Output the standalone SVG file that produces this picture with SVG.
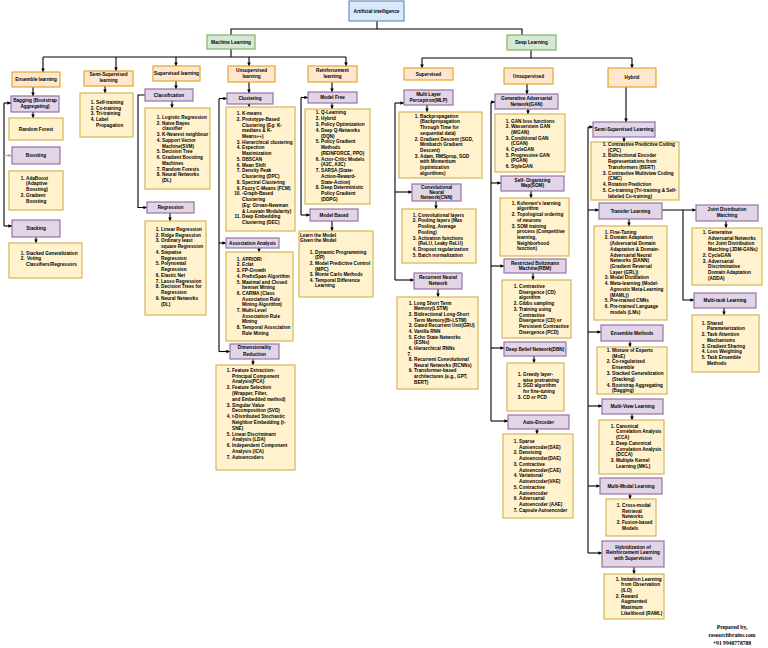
<svg xmlns="http://www.w3.org/2000/svg" width="768" height="648" viewBox="0 0 768 648">
<defs>
<style>
.bx{stroke-width:1.2}
.b{fill:#dae8fc;stroke:#6c8ebf}
.g{fill:#d5e8d4;stroke:#82b366}
.o{fill:#ffe6cc;stroke:#e0a82e}
.p{fill:#e1d5e7;stroke:#9673a6}
.y{fill:#fff2cc;stroke:#d6b656}
text{font-family:"Liberation Sans",Arial,sans-serif;font-weight:bold;font-size:4.7px;fill:#000}
.t{text-anchor:middle}
.n{text-anchor:end}
.pr{font-family:"Liberation Serif","Times New Roman",serif;font-size:5.6px;text-anchor:middle}
</style>
<marker id="a" viewBox="0 0 6 6" refX="6" refY="3" markerWidth="3.6" markerHeight="3.6" markerUnits="userSpaceOnUse" orient="auto"><path d="M0,0L6,3L0,6z" fill="#000"/></marker>
<marker id="ag" viewBox="0 0 6 6" refX="6" refY="3" markerWidth="3.6" markerHeight="3.6" markerUnits="userSpaceOnUse" orient="auto"><path d="M0,0L6,3L0,6z" fill="#aaa"/></marker>
</defs>
<rect width="768" height="648" fill="#fff"/>

<g id="connectors" fill="none" stroke="#000" stroke-width="1.1">
<path d="M377,21V29H231V35"/><path d="M377,29H522V35"/>
<path d="M231,49V57"/><path d="M43,57H346"/>
<g marker-end="url(#a)">
<path d="M43,57V72"/><path d="M116,57V71"/><path d="M176,57V66"/><path d="M249,57V66"/><path d="M346,57V66"/>
<path d="M33,87V96"/><path d="M33,112V118"/>
<path d="M4,103H11"/><path d="M4,226H12"/>
<path d="M36,237V243"/><path d="M105,86V93"/>
<path d="M176,81V89"/><path d="M172,101V108"/><path d="M170,213V221"/>
<path d="M145,95H138V207.5H147"/>
<path d="M249,82V93"/><path d="M249,103.5V107"/><path d="M259,248V252"/><path d="M253,359V365"/>
<path d="M219,98.5H227"/><path d="M219,243H226"/><path d="M219,351.5H230"/>
<path d="M332,82V92"/><path d="M332,103V109"/><path d="M332,221V231"/>
<path d="M301,97.5H308"/><path d="M301,215H310"/>
<path d="M422,58V68"/><path d="M632,58V68"/>
<path d="M527,84V94"/><path d="M427,105V112"/><path d="M436,201V209"/><path d="M438,289V297"/>
<path d="M395,103H404"/><path d="M395,192H412"/><path d="M395,280H414"/>
<path d="M528,109V114"/><path d="M531,191V198"/><path d="M533,273V280"/><path d="M534,356V363"/><path d="M537,429V434"/>
<path d="M491,102H495"/><path d="M491,183H501"/><path d="M491,266H504"/><path d="M491,348H504"/><path d="M491,421H508"/>
<path d="M626,87V122"/><path d="M624,137V142"/><path d="M662,210H696"/><path d="M683,210V300H694"/>
<path d="M629,219V226"/><path d="M726,221V228"/><path d="M724,308V315"/><path d="M630,341V347"/><path d="M632,414V420"/><path d="M630,494V499"/><path d="M634,567V574"/>
<path d="M588,127H593"/><path d="M588,210H599"/><path d="M588,332H601"/><path d="M588,406H602"/><path d="M588,486H600"/><path d="M588,553H602"/>
</g>
<path d="M4,103V226"/><path d="M4,155.5H12" stroke="#aaa" marker-end="url(#ag)"/>
<path d="M219,98.5V351.5"/><path d="M301,97.5V215"/>
<path d="M531,50V58"/><path d="M422,58H632"/>
<path d="M395,103V280"/><path d="M491,102V421"/><path d="M588,127V553"/>
</g>

<g id="root"><rect class="bx b" x="349" y="1" width="55" height="20"/><text class="t" x="376.5" y="12.7">Artificial intelligence</text></g>
<g id="ml"><rect class="bx g" x="207" y="35" width="48" height="14"/><text class="t" x="231" y="43.7">Machine Learning</text></g>
<g id="dl"><rect class="bx g" x="507" y="35" width="49" height="15"/><text class="t" x="531.5" y="44.2">Deep Learning</text></g>

<g id="ensemble"><rect class="bx o" x="12" y="72" width="48" height="15"/><text class="t" x="36" y="81.2">Ensemble learning</text></g>
<g id="semisup"><rect class="bx o" x="84" y="71" width="49" height="15"/><text class="t" x="108.5" y="75.7">Semi-Supervised</text><text class="t" x="108.5" y="81.5">learning</text></g>
<g id="supervised"><rect class="bx o" x="153" y="66" width="47" height="15"/><text class="t" x="176.5" y="75.2">Supervised learning</text></g>
<g id="unsupervised"><rect class="bx o" x="228" y="66" width="47" height="16"/><text class="t" x="251.5" y="71.7">Unsupervised</text><text class="t" x="251.5" y="77.5">learning</text></g>
<g id="reinforcement"><rect class="bx o" x="308" y="66" width="49" height="16"/><text class="t" x="332.5" y="71.7">Reinforcement</text><text class="t" x="332.5" y="77.5">learning</text></g>

<g id="bagging"><rect class="bx p" x="11" y="96" width="48" height="16"/><text class="t" x="35" y="101.7">Bagging (Bootstrap</text><text class="t" x="35" y="108.3">Aggregating)</text></g>
<g id="randomforest"><rect class="bx y" x="9" y="118" width="54" height="22"/><text class="t" x="36" y="130.7">Random Forest</text></g>
<g id="boosting"><rect class="bx p" x="12" y="147" width="48" height="17"/><text class="t" x="36" y="157.2">Boosting</text></g>
<g id="boostlist"><rect class="bx y" x="9" y="171" width="54" height="39"/><text>
<tspan class="n" x="24.7" y="179.7">1.</tspan><tspan x="26" y="179.7">AdaBoost</tspan>
<tspan x="26" y="185.4">(Adaptive</tspan>
<tspan x="26" y="191.1">Boosting)</tspan>
<tspan class="n" x="24.7" y="196.8">2.</tspan><tspan x="26" y="196.8">Gradient</tspan>
<tspan x="26" y="202.5">Boosting</tspan></text></g>
<g id="stacking"><rect class="bx p" x="12" y="220" width="48" height="17"/><text class="t" x="36" y="230.2">Stacking</text></g>
<g id="stacklist"><rect class="bx y" x="9" y="243" width="73" height="35"/><text>
<tspan class="n" x="24.7" y="254.7">1.</tspan><tspan x="26" y="254.7">Stacked Generalization</tspan>
<tspan class="n" x="24.7" y="260.4">2.</tspan><tspan x="27" y="260.4">Voting</tspan>
<tspan x="26" y="266.1">Classifiers/Regressors</tspan></text></g>

<g id="semilist"><rect class="bx y" x="80" y="93" width="53" height="44"/><text>
<tspan class="n" x="94.7" y="103.7">1.</tspan><tspan x="96" y="103.7">Self-training</tspan>
<tspan class="n" x="94.7" y="109.5">2.</tspan><tspan x="96" y="109.5">Co-training</tspan>
<tspan class="n" x="94.7" y="115.2">3.</tspan><tspan x="96" y="115.2">Tri-training</tspan>
<tspan class="n" x="94.7" y="120.9">4.</tspan><tspan x="96" y="120.9">Label</tspan>
<tspan x="96" y="126.7">Propagation</tspan></text></g>

<g id="classification"><rect class="bx p" x="145" y="89" width="48" height="12"/><text class="t" x="169" y="96.7">Classification</text></g>
<g id="classlist"><rect class="bx y" x="145" y="108" width="65" height="81"/><text>
<tspan class="n" x="160.7" y="118.7">1.</tspan><tspan x="162" y="118.7">Logistic Regression</tspan>
<tspan class="n" x="160.7" y="124.5">2.</tspan><tspan x="162" y="124.5">Naive Bayes</tspan>
<tspan x="162" y="130.2">classifier</tspan>
<tspan class="n" x="160.7" y="136">3.</tspan><tspan x="162" y="136">K-Nearest neighbour</tspan>
<tspan class="n" x="160.7" y="141.7">4.</tspan><tspan x="162" y="141.7">Support Vector</tspan>
<tspan x="162" y="147.5">Machine(SVM)</tspan>
<tspan class="n" x="160.7" y="153.2">5.</tspan><tspan x="162" y="153.2">Decision Tree</tspan>
<tspan class="n" x="160.7" y="159">6.</tspan><tspan x="162" y="159">Gradient Boosting</tspan>
<tspan x="162" y="164.7">Machines</tspan>
<tspan class="n" x="160.7" y="170.5">7.</tspan><tspan x="162" y="170.5">Random Forests</tspan>
<tspan class="n" x="160.7" y="176.2">8.</tspan><tspan x="162" y="176.2">Neural Networks</tspan>
<tspan x="162" y="182">(DL)</tspan></text></g>
<g id="regression"><rect class="bx p" x="147" y="202" width="47" height="11"/><text class="t" x="170.5" y="209.2">Regression</text></g>
<g id="reglist"><rect class="bx y" x="145" y="221" width="61" height="94"/><text>
<tspan class="n" x="159.7" y="230.7">1.</tspan><tspan x="161" y="230.7">Linear Regression</tspan>
<tspan class="n" x="159.7" y="236.5">2.</tspan><tspan x="161" y="236.5">Ridge Regression</tspan>
<tspan class="n" x="159.7" y="242.2">3.</tspan><tspan x="161" y="242.2">Ordinary least</tspan>
<tspan x="161" y="248">square Regression</tspan>
<tspan class="n" x="159.7" y="253.8">4.</tspan><tspan x="161" y="253.8">Stepwise</tspan>
<tspan x="161" y="259.5">Regression</tspan>
<tspan class="n" x="159.7" y="265.3">5.</tspan><tspan x="161" y="265.3">Polynomial</tspan>
<tspan x="161" y="271.1">Regression</tspan>
<tspan class="n" x="159.7" y="276.8">6.</tspan><tspan x="161" y="276.8">Elastic Net</tspan>
<tspan class="n" x="159.7" y="282.6">7.</tspan><tspan x="161" y="282.6">Lasso Regression</tspan>
<tspan class="n" x="159.7" y="288.4">8.</tspan><tspan x="161" y="288.4">Decision Trees for</tspan>
<tspan x="161" y="294.1">Regression</tspan>
<tspan class="n" x="159.7" y="299.9">9.</tspan><tspan x="161" y="299.9">Neural Networks</tspan>
<tspan x="161" y="305.7">(DL)</tspan></text></g>

<g id="clustering"><rect class="bx p" x="227" y="93" width="46" height="11"/><text class="t" x="250" y="100.2">Clustering</text></g>
<g id="clusterlist"><rect class="bx y" x="226" y="107" width="69" height="124"/><text>
<tspan class="n" x="240.7" y="115">1.</tspan><tspan x="242" y="115">K-means</tspan>
<tspan class="n" x="240.7" y="120.7">2.</tspan><tspan x="242" y="120.7">Prototype-Based</tspan>
<tspan x="242" y="126.5">Clustering (Eg: K-</tspan>
<tspan x="242" y="132.2">medians &amp; K-</tspan>
<tspan x="242" y="137.9">Means++)</tspan>
<tspan class="n" x="240.7" y="143.7">3.</tspan><tspan x="242" y="143.7">Hierarchical clustering</tspan>
<tspan class="n" x="240.7" y="149.4">4.</tspan><tspan x="242" y="149.4">Expection</tspan>
<tspan x="242" y="155.2">Maximization</tspan>
<tspan class="n" x="240.7" y="160.9">5.</tspan><tspan x="242" y="160.9">DBSCAN</tspan>
<tspan class="n" x="240.7" y="166.6">6.</tspan><tspan x="242" y="166.6">Mean Shift</tspan>
<tspan class="n" x="240.7" y="172.4">7.</tspan><tspan x="242" y="172.4">Density Peak</tspan>
<tspan x="242" y="178.1">Clustering (DPC)</tspan>
<tspan class="n" x="240.7" y="183.9">8.</tspan><tspan x="242" y="183.9">Spectral Clustering</tspan>
<tspan class="n" x="240.7" y="189.6">9.</tspan><tspan x="242" y="189.6">Fuzzy C-Means (FCM)</tspan>
<tspan class="n" x="240.7" y="195.3">10.</tspan><tspan x="242" y="195.3">-Graph-Based</tspan>
<tspan x="242" y="201.1">Clustering</tspan>
<tspan x="242" y="206.8">(Eg: Girvan-Newman</tspan>
<tspan x="242" y="212.6">&amp; Louvain Modularity)</tspan>
<tspan class="n" x="240.7" y="218.3">11.</tspan><tspan x="242" y="218.3">Deep Embedding</tspan>
<tspan x="242" y="224">Clustering (DEC)</tspan></text></g>
<g id="association"><rect class="bx p" x="226" y="238" width="53" height="10"/><text class="t" x="252.5" y="244.7">Association  Analysis</text></g>
<g id="assoclist"><rect class="bx y" x="226" y="252" width="67" height="89"/><text>
<tspan class="n" x="240.7" y="260.7">1.</tspan><tspan x="242" y="260.7">APRIORI</tspan>
<tspan class="n" x="240.7" y="266.4">2.</tspan><tspan x="242" y="266.4">Eclat</tspan>
<tspan class="n" x="240.7" y="272.1">3.</tspan><tspan x="242" y="272.1">FP-Growth</tspan>
<tspan class="n" x="240.7" y="277.8">4.</tspan><tspan x="242" y="277.8">PrefixSpan Algorithm</tspan>
<tspan class="n" x="240.7" y="283.5">5.</tspan><tspan x="242" y="283.5">Maximal and Closed</tspan>
<tspan x="242" y="289.2">Itemset Mining</tspan>
<tspan class="n" x="240.7" y="294.9">6.</tspan><tspan x="242" y="294.9">CARMA (Class</tspan>
<tspan x="242" y="300.5">Association Rule</tspan>
<tspan x="242" y="306.2">Mining Algorithm)</tspan>
<tspan class="n" x="240.7" y="311.9">7.</tspan><tspan x="242" y="311.9">Multi-Level</tspan>
<tspan x="242" y="317.6">Association Rule</tspan>
<tspan x="242" y="323.3">Mining</tspan>
<tspan class="n" x="240.7" y="329">8.</tspan><tspan x="242" y="329">Temporal Association</tspan>
<tspan x="242" y="334.7">Rule Mining</tspan></text></g>
<g id="dimred"><rect class="bx p" x="230" y="344" width="49" height="15"/><text class="t" x="254.5" y="349.2">Dimensionality</text><text class="t" x="254.5" y="355.5">Reduction</text></g>
<g id="dimlist"><rect class="bx y" x="216" y="365" width="79" height="105"/><text>
<tspan class="n" x="230.7" y="371.7">1.</tspan><tspan x="232" y="371.7">Feature Extraction-</tspan>
<tspan x="232" y="377.5">Principal Component</tspan>
<tspan x="232" y="383.3">Analysis(PCA)</tspan>
<tspan class="n" x="230.7" y="389.1">2.</tspan><tspan x="232" y="389.1">Feature Selection</tspan>
<tspan x="232" y="394.9">(Wrapper, Filter,</tspan>
<tspan x="232" y="400.7">and Embedded method)</tspan>
<tspan class="n" x="230.7" y="406.5">3.</tspan><tspan x="232" y="406.5">Singular Value</tspan>
<tspan x="232" y="412.3">Decomposition (SVD)</tspan>
<tspan class="n" x="230.7" y="418.1">4.</tspan><tspan x="232" y="418.1">t-Distributed Stochastic</tspan>
<tspan x="232" y="423.9">Neighbor Embedding (t-</tspan>
<tspan x="232" y="429.7">SNE)</tspan>
<tspan class="n" x="230.7" y="435.5">5.</tspan><tspan x="232" y="435.5">Linear Discriminant</tspan>
<tspan x="232" y="441.3">Analysis (LDA)</tspan>
<tspan class="n" x="230.7" y="447.1">6.</tspan><tspan x="232" y="447.1">Independent Component</tspan>
<tspan x="232" y="452.9">Analysis (ICA)</tspan>
<tspan class="n" x="230.7" y="458.7">7.</tspan><tspan x="232" y="458.7">Autoencoders</tspan></text></g>

<g id="modelfree"><rect class="bx p" x="308" y="92" width="49" height="11"/><text class="t" x="332.5" y="99.2">Model Free</text></g>
<g id="mflist"><rect class="bx y" x="305" y="109" width="65" height="95"/><text>
<tspan class="n" x="319.7" y="114.4">1.</tspan><tspan x="321" y="114.4">Q-Learning</tspan>
<tspan class="n" x="319.7" y="120.2">2.</tspan><tspan x="321" y="120.2">Hybrid</tspan>
<tspan class="n" x="319.7" y="125.9">3.</tspan><tspan x="321" y="125.9">Policy Optimization</tspan>
<tspan class="n" x="319.7" y="131.7">4.</tspan><tspan x="321" y="131.7">Deep Q-Networks</tspan>
<tspan x="321" y="137.5">(DQN)</tspan>
<tspan class="n" x="319.7" y="143.3">5.</tspan><tspan x="321" y="143.3">Policy Gradient</tspan>
<tspan x="321" y="149">Methods</tspan>
<tspan x="321" y="154.8">(REINFORCE, PPO)</tspan>
<tspan class="n" x="319.7" y="160.6">6.</tspan><tspan x="321" y="160.6">Actor-Critic Models</tspan>
<tspan x="321" y="166.3">(A2C, A3C)</tspan>
<tspan class="n" x="319.7" y="172.1">7.</tspan><tspan x="321" y="172.1">SARSA (State-</tspan>
<tspan x="321" y="177.9">Action-Reward-</tspan>
<tspan x="321" y="183.7">State-Action)</tspan>
<tspan class="n" x="319.7" y="189.4">8.</tspan><tspan x="321" y="189.4">Deep Deterministic</tspan>
<tspan x="321" y="195.2">Policy Gradient</tspan>
<tspan x="321" y="201">(DDPG)</tspan></text></g>
<g id="modelbased"><rect class="bx p" x="310" y="209" width="48" height="12"/><text class="t" x="334" y="216.7">Model Based</text></g>
<g id="mblist"><rect class="bx y" x="299" y="231" width="74" height="66"/><text>
<tspan x="300" y="236.7">Learn the Model</tspan>
<tspan x="300" y="242.4">Given the Model</tspan>
<tspan class="n" x="313.7" y="253.7">1.</tspan><tspan x="315" y="253.7">Dynamic Programming</tspan>
<tspan x="315" y="259.3">(DP)</tspan>
<tspan class="n" x="313.7" y="264.9">2.</tspan><tspan x="315" y="264.9">Model Predictive Control</tspan>
<tspan x="315" y="270.5">(MPC)</tspan>
<tspan class="n" x="313.7" y="276.1">3.</tspan><tspan x="315" y="276.1">Monte Carlo Methods</tspan>
<tspan class="n" x="313.7" y="281.7">4.</tspan><tspan x="315" y="281.7">Temporal Difference</tspan>
<tspan x="315" y="287.3">Learning</tspan></text></g>

<g id="dlsup"><rect class="bx o" x="404" y="68" width="49" height="12"/><text class="t" x="428.5" y="75.7">Supervised</text></g>
<g id="dlunsup"><rect class="bx o" x="504" y="68" width="49" height="16"/><text class="t" x="528.5" y="77.7">Unsupervised</text></g>
<g id="hybrid"><rect class="bx o" x="608" y="68" width="48" height="19"/><text class="t" x="632" y="79.2">Hybrid</text></g>

<g id="mlp"><rect class="bx p" x="404" y="90" width="49" height="15"/><text class="t" x="428.5" y="95.7">Multi Layer</text><text class="t" x="428.5" y="101.5">Perceptron(MLP)</text></g>
<g id="mlplist"><rect class="bx y" x="399" y="112" width="83" height="66"/><text>
<tspan class="n" x="418.7" y="117.7">1.</tspan><tspan x="420" y="117.7">Backpropagation</tspan>
<tspan x="420" y="123.4">(Backpropagation</tspan>
<tspan x="420" y="129.1">Through Time for</tspan>
<tspan x="420" y="134.8">sequential data)</tspan>
<tspan class="n" x="418.7" y="140.5">2.</tspan><tspan x="420" y="140.5">Gradient Descent (SGD,</tspan>
<tspan x="420" y="146.2">Minibatch Gradient</tspan>
<tspan x="420" y="151.9">Descent)</tspan>
<tspan class="n" x="418.7" y="157.6">3.</tspan><tspan x="420" y="157.6">Adam, RMSprop, SGD</tspan>
<tspan x="420" y="163.3">with Momentum</tspan>
<tspan x="420" y="169">(optimization</tspan>
<tspan x="420" y="174.7">algorithms)</tspan></text></g>
<g id="cnn"><rect class="bx p" x="412" y="184" width="49" height="17"/><text class="t" x="436.5" y="188.5">Convolutional</text><text class="t" x="436.5" y="193.8">Neural</text><text class="t" x="436.5" y="199.2">Network(CNN)</text></g>
<g id="cnnlist"><rect class="bx y" x="402" y="209" width="74" height="54"/><text>
<tspan class="n" x="416.7" y="216.7">1.</tspan><tspan x="418" y="216.7">Convolutional layers</tspan>
<tspan class="n" x="416.7" y="222.4">2.</tspan><tspan x="418" y="222.4">Pooling layers (Max</tspan>
<tspan x="418" y="228.1">Pooling, Average</tspan>
<tspan x="418" y="233.8">Pooling)</tspan>
<tspan class="n" x="416.7" y="239.5">3.</tspan><tspan x="418" y="239.5">Activation functions</tspan>
<tspan x="418" y="245.2">(ReLU, Leaky ReLU)</tspan>
<tspan class="n" x="416.7" y="250.9">4.</tspan><tspan x="418" y="250.9">Dropout regularization</tspan>
<tspan class="n" x="416.7" y="256.6">5.</tspan><tspan x="418" y="256.6">Batch normalization</tspan></text></g>
<g id="rnn"><rect class="bx p" x="414" y="273" width="48" height="16"/><text class="t" x="438" y="278.7">Recurrent Neural</text><text class="t" x="438" y="284.5">Network</text></g>
<g id="rnnlist"><rect class="bx y" x="397" y="297" width="81" height="92"/><text>
<tspan class="n" x="412.7" y="304.7">1.</tspan><tspan x="414" y="304.7">Long Short Term</tspan>
<tspan x="414" y="310.3">Memory(LSTM)</tspan>
<tspan class="n" x="412.7" y="316">2.</tspan><tspan x="414" y="316">Bidirectional Long-Short</tspan>
<tspan x="414" y="321.6">Term Memory(Bi-LSTM)</tspan>
<tspan class="n" x="412.7" y="327.3">3.</tspan><tspan x="414" y="327.3">Gated Recurrent Unit(GRU)</tspan>
<tspan class="n" x="412.7" y="332.9">4.</tspan><tspan x="414" y="332.9">Vanilla RNN</tspan>
<tspan class="n" x="412.7" y="338.5">5.</tspan><tspan x="414" y="338.5">Echo State Networks</tspan>
<tspan x="414" y="344.2">(ESNs)</tspan>
<tspan class="n" x="412.7" y="349.8">6.</tspan><tspan x="414" y="349.8">Hierarchical RNNs</tspan>
<tspan class="n" x="412.7" y="355.5">7.</tspan>
<tspan class="n" x="412.7" y="361.1">8.</tspan><tspan x="414" y="361.1">Recurrent Convolutional</tspan>
<tspan x="414" y="366.7">Neural Networks (RCNNs)</tspan>
<tspan class="n" x="412.7" y="372.4">9.</tspan><tspan x="414" y="372.4">Transformer-based</tspan>
<tspan x="414" y="378">architectures (e.g., GPT,</tspan>
<tspan x="414" y="383.7">BERT)</tspan></text></g>

<g id="gan"><rect class="bx p" x="495" y="94" width="63" height="15"/><text class="t" x="526.5" y="100.3">Generative Adversarial</text><text class="t" x="526.5" y="106">Network(GAN)</text></g>
<g id="ganlist"><rect class="bx y" x="495" y="114" width="70" height="58"/><text>
<tspan class="n" x="509.7" y="122.7">1.</tspan><tspan x="511" y="122.7">GAN loss functions</tspan>
<tspan class="n" x="509.7" y="128.3">2.</tspan><tspan x="511" y="128.3">Wasserstein GAN</tspan>
<tspan x="511" y="133.9">(WGAN)</tspan>
<tspan class="n" x="509.7" y="139.6">3.</tspan><tspan x="511" y="139.6">Conditional GAN</tspan>
<tspan x="511" y="145.2">(CGAN)</tspan>
<tspan class="n" x="509.7" y="150.8">4.</tspan><tspan x="511" y="150.8">CycleGAN</tspan>
<tspan class="n" x="509.7" y="156.5">5.</tspan><tspan x="511" y="156.5">Progressive GAN</tspan>
<tspan x="511" y="162.1">(PGAN)</tspan>
<tspan class="n" x="509.7" y="167.7">6.</tspan><tspan x="511" y="167.7">StyleGAN</tspan></text></g>
<g id="som"><rect class="bx p" x="501" y="176" width="63" height="15"/><text class="t" x="532.5" y="181.5">Self- Organizing</text><text class="t" x="532.5" y="187">Map(SOM)</text></g>
<g id="somlist"><rect class="bx y" x="500" y="198" width="69" height="58"/><text>
<tspan class="n" x="515.7" y="204.7">1.</tspan><tspan x="517" y="204.7">Kohonen's learning</tspan>
<tspan x="517" y="210.4">algorithm</tspan>
<tspan class="n" x="515.7" y="216.1">2.</tspan><tspan x="517" y="216.1">Topological ordering</tspan>
<tspan x="517" y="221.8">of neurons</tspan>
<tspan class="n" x="515.7" y="227.5">3.</tspan><tspan x="517" y="227.5">SOM training</tspan>
<tspan x="517" y="233.2">process (Competitive</tspan>
<tspan x="517" y="238.9">learning,</tspan>
<tspan x="517" y="244.6">Neighborhood</tspan>
<tspan x="517" y="250.3">function)</tspan></text></g>
<g id="rbm"><rect class="bx p" x="504" y="259" width="62" height="14"/><text class="t" x="535" y="264.5">Restricted Boltzmann</text><text class="t" x="535" y="270.3">Machine(RBM)</text></g>
<g id="rbmlist"><rect class="bx y" x="502" y="280" width="69" height="58"/><text>
<tspan class="n" x="517.7" y="287.7">1.</tspan><tspan x="519" y="287.7">Contrastive</tspan>
<tspan x="519" y="293.5">Divergence (CD)</tspan>
<tspan x="519" y="299.2">algorithm</tspan>
<tspan class="n" x="517.7" y="305">2.</tspan><tspan x="519" y="305">Gibbs sampling</tspan>
<tspan class="n" x="517.7" y="310.7">3.</tspan><tspan x="519" y="310.7">Training using</tspan>
<tspan x="519" y="316.5">Contrastive</tspan>
<tspan x="519" y="322.2">Divergence (CD) or</tspan>
<tspan x="519" y="328">Persistent Contrastive</tspan>
<tspan x="519" y="333.7">Divergence (PCD)</tspan></text></g>
<g id="dbn"><rect class="bx p" x="504" y="342" width="62" height="14"/><text class="t" x="535" y="350.7">Deep Belief Network(DBN)</text></g>
<g id="dbnlist"><rect class="bx y" x="507" y="363" width="57" height="48"/><text>
<tspan class="n" x="521.7" y="375.7">1.</tspan><tspan x="523" y="375.7">Greedy layer-</tspan>
<tspan x="523" y="381.5">wise pretraining</tspan>
<tspan class="n" x="521.7" y="387.2">2.</tspan><tspan x="523" y="387.2">SGD algorithm</tspan>
<tspan x="523" y="393">for fine-tuning</tspan>
<tspan class="n" x="521.7" y="398.7">3.</tspan><tspan x="523" y="398.7">CD or PCD</tspan></text></g>
<g id="ae"><rect class="bx p" x="508" y="415" width="61" height="14"/><text class="t" x="538.5" y="423.7">Auto-Encoder</text></g>
<g id="aelist"><rect class="bx y" x="503" y="434" width="70" height="84"/><text>
<tspan class="n" x="517.7" y="442.7">1.</tspan><tspan x="519" y="442.7">Sparse</tspan>
<tspan x="519" y="448.5">Autoencoder(SAE)</tspan>
<tspan class="n" x="517.7" y="454.2">2.</tspan><tspan x="519" y="454.2">Denoising</tspan>
<tspan x="519" y="460">Autoencoder(DAE)</tspan>
<tspan class="n" x="517.7" y="465.7">3.</tspan><tspan x="519" y="465.7">Contractive</tspan>
<tspan x="519" y="471.5">Autoencoder(CAE)</tspan>
<tspan class="n" x="517.7" y="477.2">4.</tspan><tspan x="519" y="477.2">Variational</tspan>
<tspan x="519" y="483">Autoencoder(VAE)</tspan>
<tspan class="n" x="517.7" y="488.7">5.</tspan><tspan x="519" y="488.7">Contractive</tspan>
<tspan x="519" y="494.5">Autoencoder</tspan>
<tspan class="n" x="517.7" y="500.2">6.</tspan><tspan x="519" y="500.2">Adversarial</tspan>
<tspan x="519" y="506">Autoencoder (AAE)</tspan>
<tspan class="n" x="517.7" y="511.7">7.</tspan><tspan x="519" y="511.7">Capsule Autoencoder</tspan></text></g>

<g id="ssl"><rect class="bx p" x="593" y="122" width="62" height="15"/><text class="t" x="624" y="131.2">Semi-Supervised Learning</text></g>
<g id="ssllist"><rect class="bx y" x="591" y="142" width="88" height="58"/><text>
<tspan class="n" x="606.7" y="145.7">1.</tspan><tspan x="608" y="145.7">Contrastive Predictive Coding</tspan>
<tspan x="608" y="151.5">(CPC)</tspan>
<tspan class="n" x="606.7" y="157.3">2.</tspan><tspan x="608" y="157.3">Bidirectional Encoder</tspan>
<tspan x="608" y="163">Representations from</tspan>
<tspan x="608" y="168.8">Transformers (BERT)</tspan>
<tspan class="n" x="606.7" y="174.6">3.</tspan><tspan x="608" y="174.6">Contrastive Multiview Coding</tspan>
<tspan x="608" y="180.4">(CMC)</tspan>
<tspan class="n" x="606.7" y="186.2">4.</tspan><tspan x="608" y="186.2">Rotation Prediction</tspan>
<tspan class="n" x="606.7" y="192">5.</tspan><tspan x="608" y="192">Co-training (Tri-training &amp; Self-</tspan>
<tspan x="608" y="197.7">labeled Co-training)</tspan></text></g>
<g id="transfer"><rect class="bx p" x="599" y="203" width="63" height="16"/><text class="t" x="630.5" y="212.7">Transfer Learning</text></g>
<g id="transferlist"><rect class="bx y" x="594" y="226" width="73" height="94"/><text>
<tspan class="n" x="608.7" y="233.7">1.</tspan><tspan x="610" y="233.7">Fine-Tuning</tspan>
<tspan class="n" x="608.7" y="239.4">2.</tspan><tspan x="610" y="239.4">Domain Adaptation</tspan>
<tspan x="610" y="245.1">(Adversarial Domain</tspan>
<tspan x="610" y="250.8">Adaptation &amp; Domain-</tspan>
<tspan x="610" y="256.5">Adversarial Neural</tspan>
<tspan x="610" y="262.3">Networks (DANN)</tspan>
<tspan x="610" y="268">(Gradient Reversal</tspan>
<tspan x="610" y="273.7">Layer (GRL))</tspan>
<tspan class="n" x="608.7" y="279.4">3.</tspan><tspan x="610" y="279.4">Model Distillation</tspan>
<tspan class="n" x="608.7" y="285.1">4.</tspan><tspan x="610" y="285.1">Meta-learning (Model-</tspan>
<tspan x="610" y="290.8">Agnostic Meta-Learning</tspan>
<tspan x="610" y="296.5">(MAML))</tspan>
<tspan class="n" x="608.7" y="302.2">5.</tspan><tspan x="610" y="302.2">Pre-trained CNNs</tspan>
<tspan class="n" x="608.7" y="308">6.</tspan><tspan x="610" y="308">Pre-trained Language</tspan>
<tspan x="610" y="313.7">models (LMs)</tspan></text></g>
<g id="jdm"><rect class="bx p" x="696" y="205" width="62" height="16"/><text class="t" x="727" y="210.7">Joint Distribution</text><text class="t" x="727" y="216.5">Matching</text></g>
<g id="jdmlist"><rect class="bx y" x="692" y="228" width="70" height="57"/><text>
<tspan class="n" x="706.7" y="233.7">1.</tspan><tspan x="708" y="233.7">Generative</tspan>
<tspan x="708" y="239.5">Adversarial Networks</tspan>
<tspan x="708" y="245.2">for Joint Distribution</tspan>
<tspan x="708" y="251">Matching (JDM-GANs)</tspan>
<tspan class="n" x="706.7" y="256.7">2.</tspan><tspan x="708" y="256.7">CycleGAN</tspan>
<tspan class="n" x="706.7" y="262.5">3.</tspan><tspan x="708" y="262.5">Adversarial</tspan>
<tspan x="708" y="268.2">Discriminative</tspan>
<tspan x="708" y="274">Domain Adaptation</tspan>
<tspan x="708" y="279.7">(ADDA)</tspan></text></g>
<g id="multitask"><rect class="bx p" x="694" y="293" width="62" height="15"/><text class="t" x="725" y="302.2">Multi-task Learning</text></g>
<g id="multitasklist"><rect class="bx y" x="692" y="315" width="67" height="57"/><text>
<tspan class="n" x="705.7" y="324.7">1.</tspan><tspan x="707" y="324.7">Shared</tspan>
<tspan x="707" y="330.4">Parameterization</tspan>
<tspan class="n" x="705.7" y="336.1">2.</tspan><tspan x="707" y="336.1">Task Attention</tspan>
<tspan x="707" y="341.8">Mechanisms</tspan>
<tspan class="n" x="705.7" y="347.5">3.</tspan><tspan x="707" y="347.5">Gradient Sharing</tspan>
<tspan class="n" x="705.7" y="353.2">4.</tspan><tspan x="707" y="353.2">Loss Weighting</tspan>
<tspan class="n" x="705.7" y="358.9">5.</tspan><tspan x="707" y="358.9">Task Ensemble</tspan>
<tspan x="707" y="364.6">Methods</tspan></text></g>
<g id="ensmethods"><rect class="bx p" x="601" y="325" width="62" height="16"/><text class="t" x="632" y="334.7">Ensemble Methods</text></g>
<g id="enslist"><rect class="bx y" x="597" y="347" width="70" height="47"/><text>
<tspan class="n" x="610.7" y="351.7">1.</tspan><tspan x="612" y="351.7">Mixture of Experts</tspan>
<tspan x="612" y="357.5">(MoE)</tspan>
<tspan class="n" x="610.7" y="363.3">2.</tspan><tspan x="612" y="363.3">Co-regularized</tspan>
<tspan x="612" y="369.1">Ensemble</tspan>
<tspan class="n" x="610.7" y="374.9">3.</tspan><tspan x="612" y="374.9">Stacked Generalization</tspan>
<tspan x="612" y="380.7">(Stacking)</tspan>
<tspan class="n" x="610.7" y="386.5">4.</tspan><tspan x="612" y="386.5">Bootstrap Aggregating</tspan>
<tspan x="612" y="392.3">(Bagging)</tspan></text></g>
<g id="multiview"><rect class="bx p" x="602" y="399" width="61" height="15"/><text class="t" x="632.5" y="408.2">Multi-View Learning</text></g>
<g id="mvlist"><rect class="bx y" x="599" y="420" width="65" height="54"/><text>
<tspan class="n" x="614.7" y="427.7">1.</tspan><tspan x="616" y="427.7">Canonical</tspan>
<tspan x="616" y="433.4">Correlation Analysis</tspan>
<tspan x="616" y="439.1">(CCA)</tspan>
<tspan class="n" x="614.7" y="444.9">2.</tspan><tspan x="616" y="444.9">Deep Canonical</tspan>
<tspan x="616" y="450.6">Correlation Analysis</tspan>
<tspan x="616" y="456.3">(DCCA)</tspan>
<tspan class="n" x="614.7" y="462">3.</tspan><tspan x="616" y="462">Multiple Kernel</tspan>
<tspan x="616" y="467.7">Learning (MKL)</tspan></text></g>
<g id="multimodal"><rect class="bx p" x="600" y="478" width="62" height="16"/><text class="t" x="631" y="487.7">Multi-Modal Learning</text></g>
<g id="mmlist"><rect class="bx y" x="606" y="499" width="50" height="37"/><text>
<tspan class="n" x="620.7" y="506.7">1.</tspan><tspan x="622" y="506.7">Cross-modal</tspan>
<tspan x="622" y="512.5">Retrieval</tspan>
<tspan x="622" y="518.2">Networks</tspan>
<tspan class="n" x="620.7" y="524">2.</tspan><tspan x="622" y="524">Fusion-based</tspan>
<tspan x="622" y="529.7">Models</tspan></text></g>
<g id="hrl"><rect class="bx p" x="602" y="541" width="62" height="26"/><text class="t" x="633" y="548.7">Hybridization of</text><text class="t" x="633" y="554.3">Reinforcement Learning</text><text class="t" x="633" y="560">with Supervision</text></g>
<g id="hrllist"><rect class="bx y" x="604" y="574" width="60" height="45"/><text>
<tspan class="n" x="619.7" y="580.7">1.</tspan><tspan x="621" y="580.7">Imitation Learning</tspan>
<tspan x="621" y="586.4">from Observation</tspan>
<tspan x="621" y="592">(ILO)</tspan>
<tspan class="n" x="619.7" y="597.7">2.</tspan><tspan x="621" y="597.7">Reward</tspan>
<tspan x="621" y="603.4">Augmented</tspan>
<tspan x="621" y="609">Maximum</tspan>
<tspan x="621" y="614.7">Likelihood (RAML)</tspan></text></g>

<g id="credit"><text class="pr" x="732" y="629">Prepared by,</text><text class="pr" x="732" y="637">researchbrains.com</text><text class="pr" x="732" y="645">+91 9940778788</text></g>
</svg>
